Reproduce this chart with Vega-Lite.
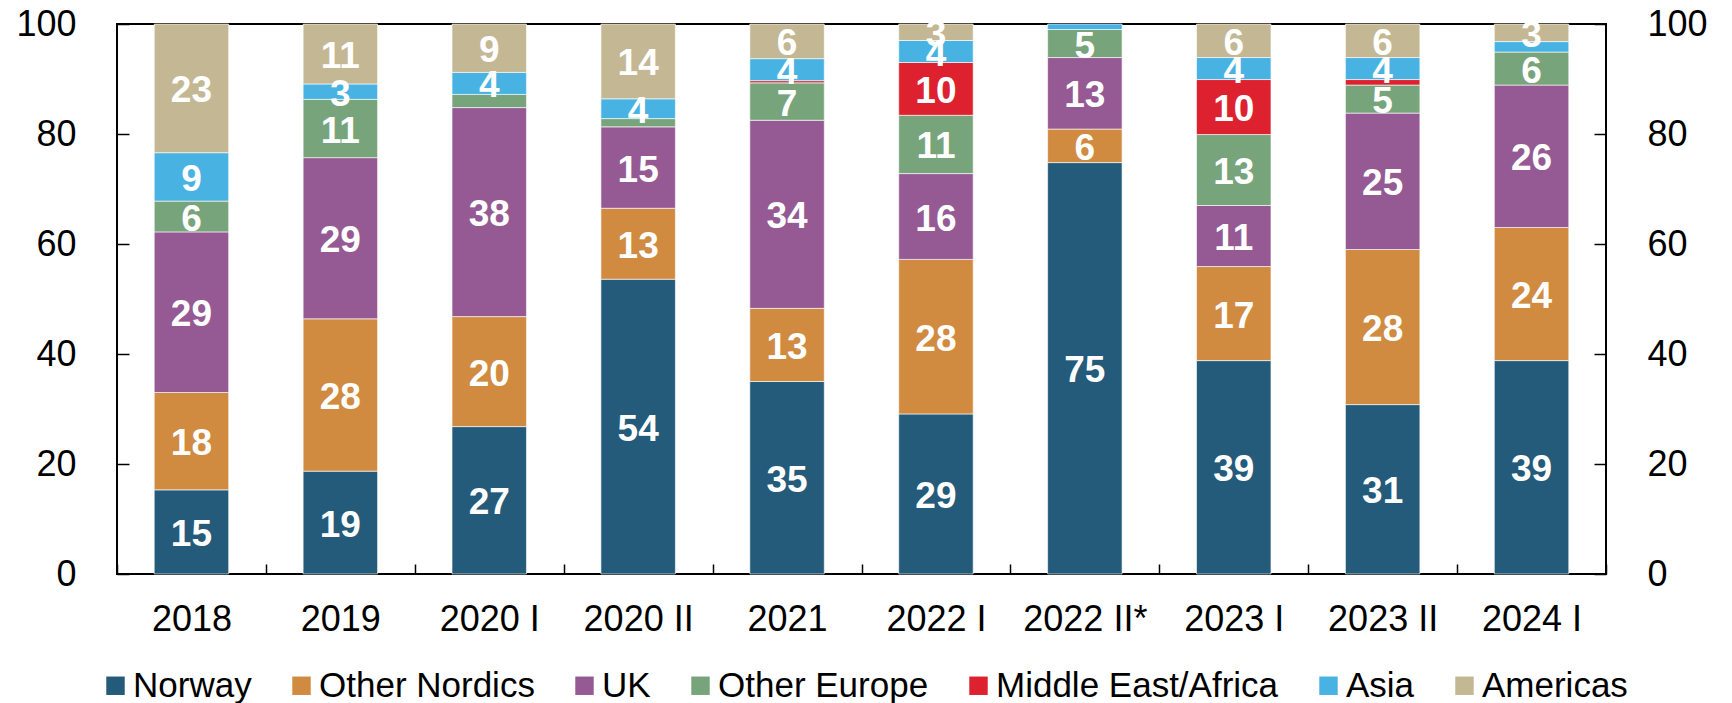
{
  "$schema": "https://vega.github.io/schema/vega-lite/v6.json",
  "autosize": "none",
  "width": 1489,
  "height": 550,
  "padding": {"left": 117, "top": 24, "right": 126, "bottom": 129},
  "background": "white",
  "config": {
    "view": {"stroke": "black", "strokeWidth": 2},
    "axis": {"labelFont": "Liberation Sans", "labelFontSize": 36, "labelColor": "black", "tickColor": "black", "tickWidth": 1.5, "domain": false, "grid": false, "title": null}
  },
  "data": {"values": [
    {"period": "2018", "region": "Norway", "value": 15.3},
    {"period": "2018", "region": "Other Nordics", "value": 17.7},
    {"period": "2018", "region": "UK", "value": 29.2},
    {"period": "2018", "region": "Other Europe", "value": 5.6},
    {"period": "2018", "region": "Asia", "value": 8.8},
    {"period": "2018", "region": "Americas", "value": 23.4},
    {"period": "2019", "region": "Norway", "value": 18.7},
    {"period": "2019", "region": "Other Nordics", "value": 27.7},
    {"period": "2019", "region": "UK", "value": 29.3},
    {"period": "2019", "region": "Other Europe", "value": 10.6},
    {"period": "2019", "region": "Asia", "value": 2.8},
    {"period": "2019", "region": "Americas", "value": 10.9},
    {"period": "2020 I", "region": "Norway", "value": 26.8},
    {"period": "2020 I", "region": "Other Nordics", "value": 20.0},
    {"period": "2020 I", "region": "UK", "value": 38.0},
    {"period": "2020 I", "region": "Other Europe", "value": 2.4},
    {"period": "2020 I", "region": "Asia", "value": 4.0},
    {"period": "2020 I", "region": "Americas", "value": 8.8},
    {"period": "2020 II", "region": "Norway", "value": 53.6},
    {"period": "2020 II", "region": "Other Nordics", "value": 12.9},
    {"period": "2020 II", "region": "UK", "value": 14.8},
    {"period": "2020 II", "region": "Other Europe", "value": 1.5},
    {"period": "2020 II", "region": "Asia", "value": 3.6},
    {"period": "2020 II", "region": "Americas", "value": 13.6},
    {"period": "2021", "region": "Norway", "value": 35.0},
    {"period": "2021", "region": "Other Nordics", "value": 13.3},
    {"period": "2021", "region": "UK", "value": 34.2},
    {"period": "2021", "region": "Other Europe", "value": 6.8},
    {"period": "2021", "region": "Middle East/Africa", "value": 0.4},
    {"period": "2021", "region": "Asia", "value": 4.0},
    {"period": "2021", "region": "Americas", "value": 6.3},
    {"period": "2022 I", "region": "Norway", "value": 29.1},
    {"period": "2022 I", "region": "Other Nordics", "value": 28.1},
    {"period": "2022 I", "region": "UK", "value": 15.6},
    {"period": "2022 I", "region": "Other Europe", "value": 10.6},
    {"period": "2022 I", "region": "Middle East/Africa", "value": 9.6},
    {"period": "2022 I", "region": "Asia", "value": 4.0},
    {"period": "2022 I", "region": "Americas", "value": 3.0},
    {"period": "2022 II*", "region": "Norway", "value": 74.8},
    {"period": "2022 II*", "region": "Other Nordics", "value": 6.1},
    {"period": "2022 II*", "region": "UK", "value": 13.0},
    {"period": "2022 II*", "region": "Other Europe", "value": 5.1},
    {"period": "2022 II*", "region": "Asia", "value": 1.0},
    {"period": "2023 I", "region": "Norway", "value": 38.8},
    {"period": "2023 I", "region": "Other Nordics", "value": 17.1},
    {"period": "2023 I", "region": "UK", "value": 11.1},
    {"period": "2023 I", "region": "Other Europe", "value": 12.9},
    {"period": "2023 I", "region": "Middle East/Africa", "value": 10.0},
    {"period": "2023 I", "region": "Asia", "value": 4.0},
    {"period": "2023 I", "region": "Americas", "value": 6.1},
    {"period": "2023 II", "region": "Norway", "value": 30.8},
    {"period": "2023 II", "region": "Other Nordics", "value": 28.2},
    {"period": "2023 II", "region": "UK", "value": 24.8},
    {"period": "2023 II", "region": "Other Europe", "value": 5.1},
    {"period": "2023 II", "region": "Middle East/Africa", "value": 1.0},
    {"period": "2023 II", "region": "Asia", "value": 4.0},
    {"period": "2023 II", "region": "Americas", "value": 6.1},
    {"period": "2024 I", "region": "Norway", "value": 38.8},
    {"period": "2024 I", "region": "Other Nordics", "value": 24.2},
    {"period": "2024 I", "region": "UK", "value": 25.9},
    {"period": "2024 I", "region": "Other Europe", "value": 6.0},
    {"period": "2024 I", "region": "Asia", "value": 1.9},
    {"period": "2024 I", "region": "Americas", "value": 3.2}
  ]},
  "transform": [
    {"calculate": "indexof(['Norway','Other Nordics','UK','Other Europe','Middle East/Africa','Asia','Americas'], datum.region)", "as": "ord"},
    {"stack": "value", "groupby": ["period"], "sort": [{"field": "ord", "order": "ascending"}], "as": ["v0", "v1"]},
    {"calculate": "(datum.v0 + datum.v1) / 2", "as": "mid"}
  ],
  "encoding": {
    "x": {
      "field": "period", "type": "nominal",
      "sort": ["2018", "2019", "2020 I", "2020 II", "2021", "2022 I", "2022 II*", "2023 I", "2023 II", "2024 I"],
      "scale": {"paddingInner": 0, "paddingOuter": 0},
      "axis": {"labelAngle": 0, "tickBand": "extent", "tickSize": -10, "labelPadding": 38}
    }
  },
  "layer": [
    {
      "mark": {"type": "bar", "width": {"band": 0.5}, "stroke": "#ffffff", "strokeWidth": 0.75, "strokeOpacity": 0.8},
      "encoding": {
        "y": {"field": "v0", "type": "quantitative", "scale": {"domain": [0, 100], "nice": false},
              "axis": {"orient": "left", "values": [0, 20, 40, 60, 80, 100], "tickSize": -12, "labelPadding": 53}},
        "y2": {"field": "v1"},
        "color": {
          "field": "region", "type": "nominal",
          "scale": {
            "domain": ["Norway", "Other Nordics", "UK", "Other Europe", "Middle East/Africa", "Asia", "Americas"],
            "range": ["#245a7a", "#d08b40", "#955a94", "#78a47c", "#dd212e", "#48b3e2", "#c4b894"]
          },
          "legend": {
            "orient": "none", "legendX": -19, "legendY": 644, "direction": "horizontal", "title": null,
            "labelFont": "Liberation Sans", "labelFontSize": 35, "labelColor": "black", "labelLimit": 0,
            "symbolType": "square", "symbolSize": 340, "symbolStrokeWidth": 0, "symbolOpacity": 1,
            "labelOffset": 0, "columnPadding": 32, "padding": 0
          }
        }
      }
    },
    {
      "mark": {"type": "text", "color": "white", "fontWeight": "bold", "fontSize": 37, "font": "Liberation Sans", "baseline": "middle", "align": "center", "dy": 3},
      "encoding": {
        "y": {"field": "mid", "type": "quantitative", "scale": {"domain": [0, 100], "nice": false},
              "axis": {"orient": "right", "values": [0, 20, 40, 60, 80, 100], "tickSize": -12, "labelPadding": 53}},
        "text": {"condition": {"test": "datum.value >= 2.5", "field": "value", "type": "quantitative", "format": ".0f"}, "value": ""}
      }
    }
  ],
  "resolve": {"axis": {"y": "independent"}}
}
